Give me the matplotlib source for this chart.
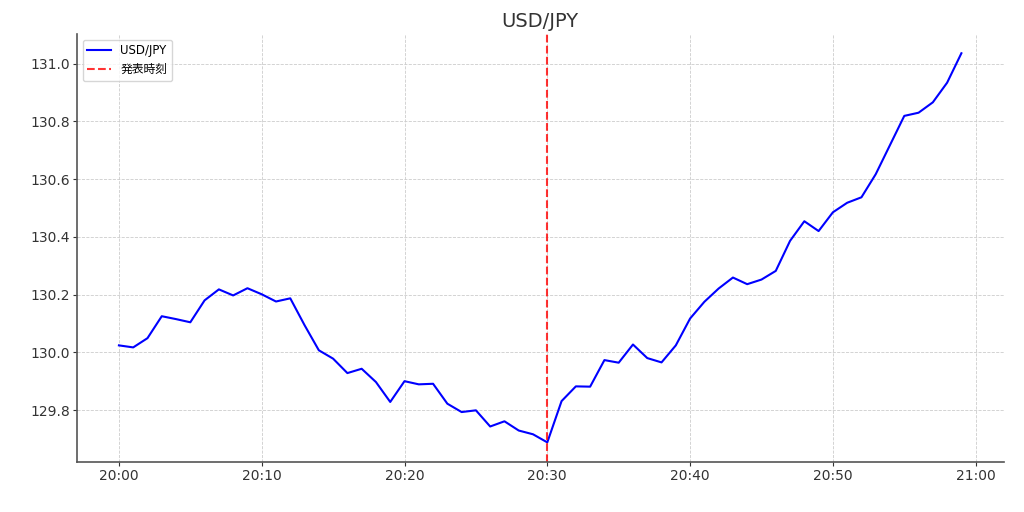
import pandas as pd
import matplotlib.pyplot as plt
import matplotlib.dates as mdates

plt.rcParams['font.family'] = ['DejaVu Sans', 'Noto Sans CJK JP']

# 1分ごとのレート (20:00 - 20:59)
times = pd.date_range('2024-01-01 20:00', periods=60, freq='1min')
rate = [
    130.024, 130.017, 130.049, 130.125, 130.115, 130.104, 130.180, 130.218, 130.197, 130.222,
    130.201, 130.176, 130.187, 130.094, 130.007, 129.978, 129.928, 129.943, 129.897, 129.828,
    129.900, 129.889, 129.891, 129.822, 129.793, 129.799, 129.743, 129.761, 129.729, 129.716,
    129.688, 129.831, 129.882, 129.881, 129.973, 129.964, 130.027, 129.980, 129.965, 130.024,
    130.117, 130.175, 130.221, 130.259, 130.236, 130.252, 130.282, 130.386, 130.454, 130.420,
    130.485, 130.518, 130.537, 130.617, 130.718, 130.819, 130.830, 130.866, 130.934, 131.036,
]
event_time = pd.Timestamp('2024-01-01 20:30')

fig, ax = plt.subplots(figsize=(10.24, 5.12), dpi=100)
fig.subplots_adjust(left=0.075, right=0.98, bottom=0.098, top=0.934)

ax.plot(times, rate, color='blue', linewidth=1.5, label='USD/JPY')
ax.axvline(event_time, color='red', linestyle='--', linewidth=1.5, alpha=0.8, label='発表時刻')

ax.set_title('USD/JPY', fontsize=14, color='#333333', pad=5)
ax.xaxis.set_major_locator(mdates.MinuteLocator(byminute=range(0, 60, 10)))
ax.xaxis.set_major_formatter(mdates.DateFormatter('%H:%M'))
ax.tick_params(labelsize=10, colors='#333333', length=3, pad=2)

ax.grid(True, linestyle='--', color='#cccccc', linewidth=0.6)
for side in ['top', 'right']:
    ax.spines[side].set_visible(False)
for side in ['left', 'bottom']:
    ax.spines[side].set_color('#555555')
    ax.spines[side].set_linewidth(1.2)

ax.legend(loc='upper left', fontsize=8.5)

plt.savefig('out.png')
